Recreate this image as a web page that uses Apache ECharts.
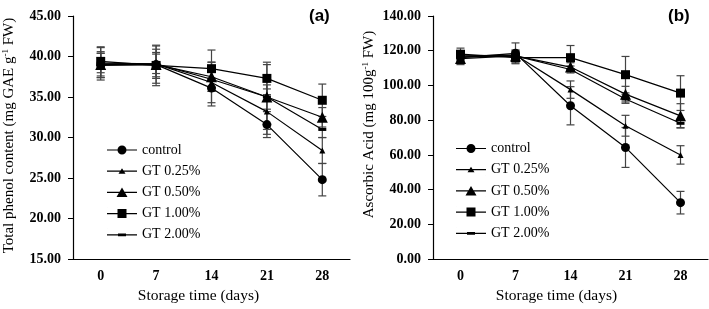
<!DOCTYPE html>
<html>
<head>
<meta charset="utf-8">
<script src="https://cdn.jsdelivr.net/npm/echarts@6/dist/echarts.min.js"></script>
<style>
	html, body { margin: 0; padding: 0; background: #fff; }
	#main { width: 709px; height: 309px; }
</style>
</head>
<body>
<div id="main"></div>
<script>
	var days = ['0', '7', '14', '21', '28'];
	var names = ['control', 'GT 0.25%', 'GT 0.50%', 'GT 1.00%', 'GT 2.00%'];

	// (a) total phenol content, mean values
	var phControl = [38.9, 39.0, 36.1, 31.6, 24.8];
	var ph025 = [39.1, 39.1, 36.8, 33.2, 28.4];
	var ph050 = [39.0, 39.0, 37.5, 35.0, 32.5];
	var ph100 = [39.4, 38.9, 38.5, 37.3, 34.6];
	var ph200 = [39.2, 39.1, 37.2, 35.0, 31.0];
	// (a) error bars (+/-)
	var phErrControl = [1.5, 2.3, 2.2, 1.6, 2.0];
	var phErr025 = [2.0, 1.8, 2.5, 2.8, 1.6];
	var phErr050 = [1.6, 1.5, 1.8, 4.0, 1.2];
	var phErr100 = [1.8, 2.5, 2.3, 2.0, 2.0];
	var phErr200 = [1.2, 1.2, 1.5, 1.5, 1.0];

	// (b) ascorbic acid, mean values
	var aaControl = [116.0, 118.5, 88.3, 64.3, 32.5];
	var aa025 = [117.0, 117.5, 97.6, 76.8, 60.0];
	var aa050 = [115.5, 117.0, 110.6, 95.0, 82.5];
	var aa100 = [118.0, 116.0, 116.0, 106.2, 95.6];
	var aa200 = [116.5, 117.0, 109.2, 92.2, 78.2];
	// (b) error bars (+/-)
	var aaErrControl = [4.0, 6.0, 11.0, 11.5, 6.5];
	var aaErr025 = [3.0, 3.0, 5.0, 6.0, 5.3];
	var aaErr050 = [3.0, 3.0, 2.5, 4.5, 7.0];
	var aaErr100 = [3.5, 3.0, 7.0, 10.5, 10.0];
	var aaErr200 = [3.0, 2.5, 2.0, 2.5, 2.5];

	var serif = 'Liberation Serif';

	// marker per series: [symbol, size]
	var marks = [
		['circle', 9],
		['triangle', 6],
		['triangle', 11],
		['rect', 9],
		['rect', [8, 3]]
	];

	// legend icons: line + marker, all in a 30x12 box
	var corners = 'M0,0L0.1,0L0,0.1Z M30,12L29.9,12L30,11.9Z ';
	var lineBar = 'M0,5.4L30,5.4L30,6.6L0,6.6Z ';
	var icons = [
		'path://' + corners + lineBar + 'M19.5,6A4.5,4.5 0 1 1 10.5,6A4.5,4.5 0 1 1 19.5,6Z',
		'path://' + corners + lineBar + 'M15,3L18.5,8.5L11.5,8.5Z',
		'path://' + corners + lineBar + 'M15,1L20.5,10.5L9.5,10.5Z',
		'path://' + corners + lineBar + 'M10.5,1.5L19.5,1.5L19.5,10.5L10.5,10.5Z',
		'path://' + corners + lineBar + 'M11,4.6L19,4.6L19,7.4L11,7.4Z'
	];

	function lineSeries(idx, gridIdx, vals) {
		return {
			name: names[idx],
			type: 'line',
			xAxisIndex: gridIdx,
			yAxisIndex: gridIdx,
			data: vals,
			symbol: marks[idx][0],
			symbolSize: marks[idx][1],
			showAllSymbol: true,
			lineStyle: { color: '#000', width: 1.2 },
			itemStyle: { color: '#000', borderWidth: 0 },
			z: 3
		};
	}

	function errSeries(gridIdx, vals, errs) {
		var data = vals.map(function (v, i) { return [i, v, errs[i]]; });
		return {
			type: 'custom',
			xAxisIndex: gridIdx,
			yAxisIndex: gridIdx,
			silent: true,
			z: 2,
			encode: { x: 0, y: 1 },
			data: data,
			renderItem: function (params, api) {
				var i = api.value(0);
				var v = api.value(1);
				var e = api.value(2);
				var top = api.coord([i, v + e]);
				var bot = api.coord([i, v - e]);
				var w = 4;
				var st = { stroke: '#444', lineWidth: 1.2 };
				return {
					type: 'group',
					children: [
						{ type: 'line', shape: { x1: top[0], y1: top[1], x2: bot[0], y2: bot[1] }, style: st },
						{ type: 'line', shape: { x1: top[0] - w, y1: top[1], x2: top[0] + w, y2: top[1] }, style: st },
						{ type: 'line', shape: { x1: bot[0] - w, y1: bot[1], x2: bot[0] + w, y2: bot[1] }, style: st }
					]
				};
			}
		};
	}

	function xAxis(gridIdx, namePad) {
		return {
			type: 'category',
			gridIndex: gridIdx,
			data: days,
			boundaryGap: true,
			name: 'Storage time (days)',
			nameLocation: 'middle',
			nameGap: 27,
			nameTextStyle: { fontFamily: serif, fontSize: 15.5, color: '#000', padding: namePad },
			axisLine: { lineStyle: { color: '#000', width: 1.2 } },
			axisTick: { alignWithLabel: true, length: 4, lineStyle: { color: '#000' } },
			axisLabel: { fontFamily: serif, fontSize: 14, fontWeight: 'bold', color: '#000', margin: 10 },
			splitLine: { show: false }
		};
	}

	function yAxis(gridIdx, min, max, step, name, namePad) {
		return {
			type: 'value',
			gridIndex: gridIdx,
			min: min,
			max: max,
			interval: step,
			name: name,
			nameLocation: 'middle',
			nameRotate: 90,
			nameGap: 55,
			nameTextStyle: {
				fontFamily: serif, fontSize: 15, color: '#000', padding: namePad,
				rich: {
					sup: { fontFamily: serif, fontSize: 9, color: '#000', verticalAlign: 'top', lineHeight: 17 }
				}
			},
			axisLine: { show: true, lineStyle: { color: '#000', width: 1.2 } },
			axisTick: { show: true, length: 5, lineStyle: { color: '#000' } },
			axisLabel: {
				fontFamily: serif, fontSize: 14, fontWeight: 'bold', color: '#000', margin: 12,
				formatter: function (v) { return v.toFixed(2); }
			},
			splitLine: { show: false }
		};
	}

	function legend(left, top, seriesIdx) {
		return {
			orient: 'vertical',
			left: left,
			top: top,
			padding: 0,
			itemWidth: 30,
			itemHeight: 12,
			itemGap: 7.2,
			selectedMode: false,
			seriesIndex: seriesIdx,
			textStyle: { fontFamily: serif, fontSize: 14, color: '#000' },
			itemStyle: { borderWidth: 0 },
			data: names.map(function (n, i) { return { name: n, icon: icons[i] }; })
		};
	}

	var phVals = [phControl, ph025, ph050, ph100, ph200];
	var phErrs = [phErrControl, phErr025, phErr050, phErr100, phErr200];
	var aaVals = [aaControl, aa025, aa050, aa100, aa200];
	var aaErrs = [aaErrControl, aaErr025, aaErr050, aaErr100, aaErr200];

	var series = [];
	for (var i = 0; i < 5; i++) {
		series.push(lineSeries(i, 0, phVals[i]));
		series.push(errSeries(0, phVals[i], phErrs[i]));
	}
	for (var j = 0; j < 5; j++) {
		series.push(lineSeries(j, 1, aaVals[j]));
		series.push(errSeries(1, aaVals[j], aaErrs[j]));
	}

	var myChart = echarts.init(document.getElementById('main'), null, { renderer: 'canvas' });
	var option = {
		animation: false,
		backgroundColor: '#fff',
		title: [
			{ text: '(a)', left: 304, top: 3, textStyle: { fontFamily: 'Liberation Sans', fontSize: 17, fontWeight: 'bold', color: '#000' } },
			{ text: '(b)', left: 663, top: 3, textStyle: { fontFamily: 'Liberation Sans', fontSize: 17, fontWeight: 'bold', color: '#000' } }
		],
		grid: [
			{ left: 70, top: 16, width: 280, height: 248 },
			{ left: 433, top: 16, width: 275, height: 248 }
		],
		legend: [
			legend(107, 143, [0, 2, 4, 6, 8]),
			legend(456, 141.5, [10, 12, 14, 16, 18])
		],
		xAxis: [xAxis(0, [0, 26, 0, 0]), xAxis(1, [0, 28, 0, 0])],
		yAxis: [
			yAxis(0, 15, 45, 5, 'Total phenol content (mg GAE g{sup|-1} FW)', [0, 0, 0, 4]),
			yAxis(1, 0, 140, 20, 'Ascorbic Acid (mg 100g{sup|-1} FW)', [0, 0, 0, 26])
		],
		series: series
	};
	myChart.setOption(option);
</script>
</body>
</html>
